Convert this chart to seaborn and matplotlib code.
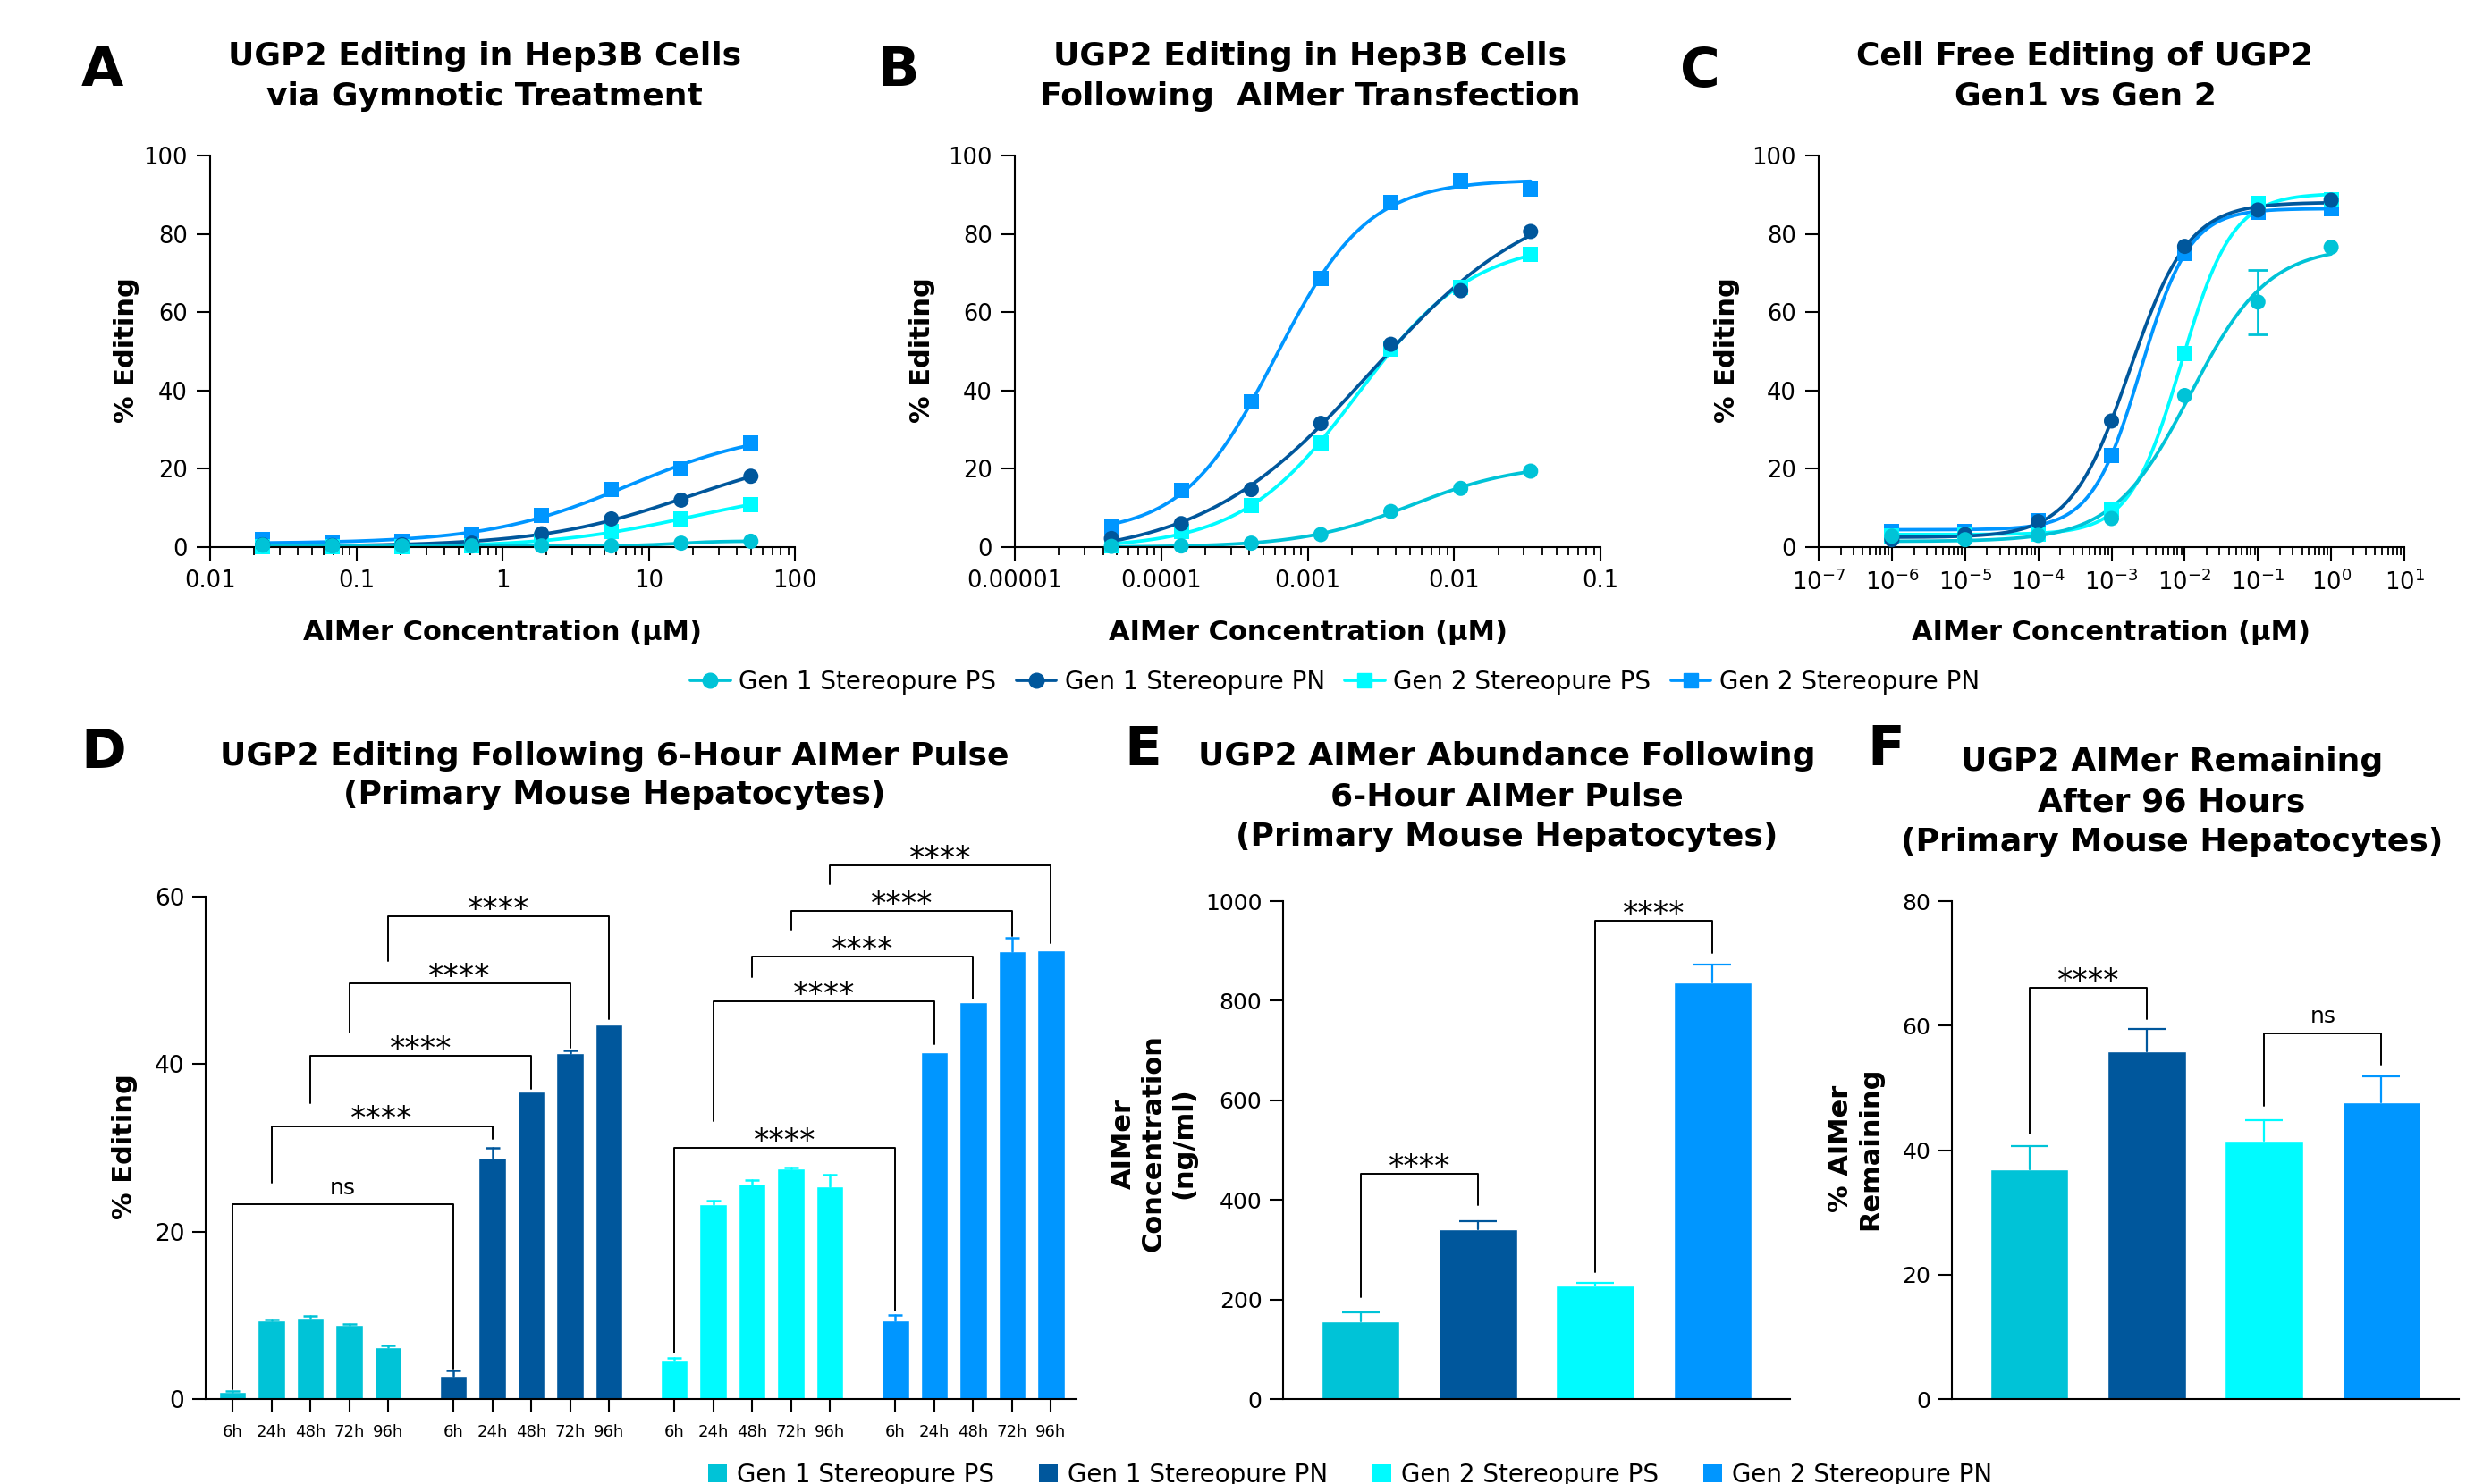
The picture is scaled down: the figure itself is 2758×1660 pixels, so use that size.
import numpy as np
import pandas as pd
import matplotlib
matplotlib.use("Agg")
import matplotlib.pyplot as plt
import seaborn as sns
from matplotlib.lines import Line2D
from matplotlib.patches import Patch
from matplotlib.ticker import LogLocator, NullFormatter

sns.set_style("ticks")
plt.rcParams["font.family"] = ["DejaVu Sans"]
plt.rcParams["mathtext.default"] = "regular"
plt.rcParams["text.color"] = "black"
plt.rcParams["axes.labelcolor"] = "black"
plt.rcParams["xtick.color"] = "black"
plt.rcParams["ytick.color"] = "black"
plt.rcParams["axes.edgecolor"] = "black"

# ---------------- data ----------------
series = ["Gen 1 Stereopure PS", "Gen 1 Stereopure PN",
          "Gen 2 Stereopure PS", "Gen 2 Stereopure PN"]
colors = ["#00C3D7", "#00579C", "#00FBFF", "#0096FF"]
markers = ["o", "o", "s", "s"]

# A: gymnotic treatment, uM
conc_a = [50, 16.67, 5.556, 1.852, 0.617, 0.206, 0.0686, 0.0229]
edit_a_g1ps = [1.5, 1.0, 0.3, 0.3, 0.3, 0.3, 0.3, 0.5]
edit_a_g1pn = [18.1, 12.0, 7.2, 3.4, 1.0, 0.6, 0.4, 0.6]
edit_a_g2ps = [10.9, 7.1, 3.9, 1.7, 0.4, 0.1, 0.2, 0.1]
edit_a_g2pn = [26.5, 20.0, 14.7, 8.0, 3.1, 1.5, 1.3, 1.9]

# B: transfection, uM
conc_b = [0.0333, 0.0111, 0.0037, 0.00123, 0.000412, 0.000137, 0.0000457]
edit_b_g1ps = [19.4, 15.0, 9.1, 3.2, 1.0, 0.3, 0.2]
edit_b_g1pn = [80.6, 65.5, 51.8, 31.6, 14.7, 6.0, 2.2]
edit_b_g2ps = [74.7, 66.4, 50.6, 26.5, 10.7, 4.1, 0.3]
edit_b_g2pn = [91.5, 93.5, 88.1, 68.5, 37.1, 14.4, 5.2]

# C: cell free, uM
conc_c = [1, 0.1, 0.01, 0.001, 0.0001, 0.00001, 0.000001]
edit_c_g1ps = [76.6, 62.6, 38.7, 7.3, 3.0, 1.9, 2.8]
sem_c_g1ps = [0, 8.2, 0, 0, 0, 0, 0]
edit_c_g1pn = [88.6, 86.1, 76.8, 32.2, 6.5, 3.2, 1.9]
edit_c_g2ps = [88.8, 87.7, 49.4, 9.8, 3.3, 3.0, 2.8]
edit_c_g2pn = [86.5, 85.5, 75.0, 23.3, 6.7, 3.9, 4.1]

# D: editing after 6 h pulse
timepoints = ["6h", "24h", "48h", "72h", "96h"]
edit_d_g1ps = [0.9, 9.4, 9.7, 8.9, 6.2]
err_d_g1ps = [0.1, 0.1, 0.2, 0.1, 0.2]
edit_d_g1pn = [2.8, 28.8, 36.7, 41.3, 44.7]
err_d_g1pn = [0.6, 1.2, 0.0, 0.3, 0.0]
edit_d_g2ps = [4.7, 23.3, 25.7, 27.5, 25.4]
err_d_g2ps = [0.2, 0.4, 0.5, 0.1, 1.4]
edit_d_g2pn = [9.35, 41.4, 47.4, 53.5, 53.6]
err_d_g2pn = [0.7, 0.0, 0.0, 1.6, 0.0]

# E: AIMer abundance (ng/ml)
abund_e = [156, 341, 228, 837]
err_e = [19, 17, 6, 36]

# F: % AIMer remaining after 96 h
remain_f = [36.9, 55.8, 41.5, 47.7]
err_f = [3.7, 3.7, 3.3, 4.1]

# significance brackets: (bar a, bar b, bracket top, left leg end, right leg end, label)
sig_d = [((0, 0), (1, 0), 23.3, 1.2, 3.6, "ns"),
         ((0, 1), (1, 1), 32.6, 25.8, 31.1, "****"),
         ((0, 2), (1, 2), 41.0, 35.3, 37.0, "****"),
         ((0, 3), (1, 3), 49.6, 43.8, 42.0, "****"),
         ((0, 4), (1, 4), 57.6, 52.3, 45.4, "****"),
         ((2, 0), (3, 0), 30.0, 5.6, 10.6, "****"),
         ((2, 1), (3, 1), 47.5, 33.2, 42.4, "****"),
         ((2, 2), (3, 2), 52.8, 50.4, 47.8, "****"),
         ((2, 3), (3, 3), 58.3, 56.1, 55.3, "****"),
         ((2, 4), (3, 4), 63.7, 61.5, 54.4, "****")]
sig_e = [(0, 1, 452, 205, 390, "****"), (2, 3, 960, 255, 896, "****")]
sig_f = [(0, 1, 66.0, 42.6, 61.0, "****"), (2, 3, 58.8, 47.1, 53.7, "ns")]

# ---------------- helpers ----------------
W, H = 2758, 1660
palette = dict(zip(series, colors))


def box(l, t, r, b):
    return [l / W, 1 - b / H, (r - l) / W, (b - t) / H]


def ftext(x, y, s, **kw):
    fig.text(x / W, 1 - y / H, s, ha="center", va="center", **kw)


def fit_4pl(x, y):
    # least squares 4PL fit on a grid of (logEC50, hill), linear in bottom/top
    lx = np.log10(np.asarray(x, float))
    y = np.asarray(y, float)
    lec = np.arange(lx.min() - 1, lx.max() + 1.5, 0.01)[:, None, None]
    hill = np.arange(0.3, 3.0, 0.01)[None, :, None]
    f = 1 / (1 + 10 ** ((lec - lx) * hill))
    fm = f.mean(-1, keepdims=True)
    ym = y.mean()
    slope = ((f - fm) * (y - ym)).sum(-1, keepdims=True) / (((f - fm) ** 2).sum(-1, keepdims=True) + 1e-12)
    sse = ((y - ym - slope * (f - fm)) ** 2).sum(-1)
    i, j = np.unravel_index(np.nanargmin(sse), sse.shape)
    bottom = ym - slope[i, j, 0] * fm[i, j, 0]
    return bottom, bottom + slope[i, j, 0], lec[i, 0, 0], hill[0, j, 0]


def style_axes(ax, fs, pad=6):
    sns.despine(ax=ax)
    for sp in ("left", "bottom"):
        ax.spines[sp].set_linewidth(1.5)
    ax.tick_params(which="major", length=11, width=1.5, labelsize=fs, pad=pad, color="black")
    ax.tick_params(which="minor", length=6.5, width=1.3, color="black")
    ax.set_xlabel("")
    ax.set_ylabel("")


def up_error(ax, x, y, e, color, cap, lw):
    # one-sided (upper) error bar, as drawn by the original software
    for xi, yi, ei in zip(x, y, e):
        if ei <= 0:
            continue
        ax.plot([xi, xi], [yi, yi + ei], color=color, lw=lw, zorder=3, clip_on=False)
        ax.plot([xi], [yi + ei], marker="_", markersize=2 * cap, mew=lw, color=color,
                zorder=3, clip_on=False)


def bracket(ax, x1, x2, top, lo1, lo2, label):
    ax.plot([x1, x1, x2, x2], [lo1, top, top, lo2], color="black", lw=1.4,
            clip_on=False, zorder=5)
    if label == "ns":
        ax.annotate(label, xy=((x1 + x2) / 2, top), xytext=(0, 8), textcoords="offset points",
                    ha="center", va="baseline", fontsize=18, annotation_clip=False)
    else:
        ax.annotate(label, xy=((x1 + x2) / 2, top), xytext=(0, -2), textcoords="offset points",
                    ha="center", va="baseline", fontsize=25, annotation_clip=False)


def dose_panel(ax, conc, values, xlim, ticks, ticklabels, sem=None):
    ax.set_xscale("log")
    conc = np.asarray(conc, float)
    rows = []
    for k in [3, 2, 1, 0]:
        b, t, lec, h = fit_4pl(conc, values[k])
        xs = np.logspace(np.log10(conc.min()), np.log10(conc.max()), 300)
        ys = b + (t - b) / (1 + 10 ** ((lec - np.log10(xs)) * h))
        ax.plot(xs, ys, color=colors[k], lw=2.7, zorder=2, solid_capstyle="round")
        for c, v in zip(conc, values[k]):
            rows.append({"conc": c, "value": v, "series": series[k]})
    if sem is not None:
        sem = np.asarray(sem, float)
        m = sem > 0
        ax.errorbar(conc[m], np.asarray(values[0])[m], yerr=sem[m], fmt="none",
                    ecolor=colors[0], elinewidth=2, capsize=8, capthick=2, zorder=2)
    df = pd.DataFrame(rows)
    sns.scatterplot(data=df, x="conc", y="value", hue="series", style="series",
                    palette=palette, markers=dict(zip(series, markers)), s=150,
                    linewidth=0, legend=False, ax=ax, zorder=3, clip_on=False)
    ax.set_xlim(*xlim)
    ax.set_ylim(0, 100)
    ax.set_yticks([0, 20, 40, 60, 80, 100])
    ax.set_xticks(ticks, ticklabels)
    ax.xaxis.set_minor_locator(LogLocator(base=10, subs=np.arange(2, 10), numticks=200))
    ax.xaxis.set_minor_formatter(NullFormatter())
    style_axes(ax, 18.5, pad=7)


fig = plt.figure(figsize=(W / 100, H / 100), dpi=100)

# ---------------- panels A-C ----------------
top_panels = [
    ("A", box(235, 174, 889, 612), conc_a,
     [edit_a_g1ps, edit_a_g1pn, edit_a_g2ps, edit_a_g2pn], None, (0.01, 100),
     [0.01, 0.1, 1, 10, 100], ["0.01", "0.1", "1", "10", "100"],
     ["UGP2 Editing in Hep3B Cells", "via Gymnotic Treatment"], 114, 542, 141),
    ("B", box(1135, 174, 1790, 612), conc_b,
     [edit_b_g1ps, edit_b_g1pn, edit_b_g2ps, edit_b_g2pn], None, (1e-5, 0.1),
     [1e-5, 1e-4, 1e-3, 1e-2, 1e-1], ["0.00001", "0.0001", "0.001", "0.01", "0.1"],
     ["UGP2 Editing in Hep3B Cells", "Following  AIMer Transfection"], 1005, 1465, 1031),
    ("C", box(2034, 174, 2689, 612), conc_c,
     [edit_c_g1ps, edit_c_g1pn, edit_c_g2ps, edit_c_g2pn], sem_c_g1ps, (1e-7, 10),
     [10.0 ** e for e in range(-7, 2)], [r"$10^{%d}$" % e for e in range(-7, 2)],
     ["Cell Free Editing of UGP2", "Gen1 vs Gen 2"], 1901, 2332, 1931),
]
for letter, rect, conc, vals, sem, xlim, ticks, tl, title, lx, tx, ylx in top_panels:
    ax = fig.add_axes(rect)
    dose_panel(ax, conc, vals, xlim, ticks, tl, sem)
    ftext(lx, 80, letter, fontsize=44, fontweight="bold")
    for i, line in enumerate(title):
        ftext(tx, 63 + 45 * i, line, fontsize=26, fontweight="bold")
    ftext(ylx, 392, "% Editing", fontsize=22, fontweight="bold", rotation=90)
    x_mid = (rect[0] + rect[2] / 2) * W
    ftext(x_mid, 707, "AIMer Concentration (µM)", fontsize=22, fontweight="bold")

line_handles = [Line2D([0], [0], color=c, marker=m, markersize=12, lw=2.7)
                for c, m in zip(colors, markers)]
fig.legend(line_handles, series, loc="center", bbox_to_anchor=(1493 / W, 1 - 763 / H),
           ncol=4, frameon=False, fontsize=20, handlelength=1.6, handletextpad=0.35,
           columnspacing=0.8)

# ---------------- panel D ----------------
group_step = 5.68
edit_d = [edit_d_g1ps, edit_d_g1pn, edit_d_g2ps, edit_d_g2pn]
err_d = [err_d_g1ps, err_d_g1pn, err_d_g2ps, err_d_g2pn]


def pos_d(g, t):
    return g * group_step + t


df_d = pd.DataFrame([{"pos": pos_d(g, t), "value": edit_d[g][t], "series": series[g]}
                     for g in range(4) for t in range(5)])
ax = fig.add_axes(box(230, 1003, 1204, 1565))
sns.barplot(data=df_d, x="pos", y="value", hue="series", hue_order=series, palette=palette,
            native_scale=True, dodge=False, width=0.7, errorbar=None, saturation=1,
            legend=False, ax=ax)
for g in range(4):
    up_error(ax, [pos_d(g, t) for t in range(5)], edit_d[g], err_d[g], colors[g], 6, 1.8)
ax.set_xlim(-0.69, 21.7)
ax.set_ylim(0, 60)
ax.set_yticks([0, 20, 40, 60])
ax.set_xticks([pos_d(g, t) for g in range(4) for t in range(5)], timepoints * 4)
style_axes(ax, 19, pad=6)
ax.tick_params(axis="x", labelsize=13, pad=9)
for (g1, t1), (g2, t2), top, lo1, lo2, lab in sig_d:
    bracket(ax, pos_d(g1, t1), pos_d(g2, t2), top, lo1, lo2, lab)
ftext(116, 842, "D", fontsize=44, fontweight="bold")
ftext(687, 846, "UGP2 Editing Following 6-Hour AIMer Pulse", fontsize=26, fontweight="bold")
ftext(687, 889, "(Primary Mouse Hepatocytes)", fontsize=26, fontweight="bold")
ftext(140, 1283, "% Editing", fontsize=22, fontweight="bold", rotation=90)

# ---------------- panels E and F ----------------
bar_panels = [
    ("E", box(1435, 1008, 2002, 1565), abund_e, err_e, (0, 1000), [0, 200, 400, 600, 800, 1000],
     sig_e, ["UGP2 AIMer Abundance Following", "6-Hour AIMer Pulse", "(Primary Mouse Hepatocytes)"],
     (1278, 839), 1685, 846, (1290, 1279), "AIMer\nConcentration\n(ng/ml)"),
    ("F", box(2183, 1008, 2750, 1565), remain_f, err_f, (0, 80), [0, 20, 40, 60, 80],
     sig_f, ["UGP2 AIMer Remaining", "After 96 Hours", "(Primary Mouse Hepatocytes)"],
     (2109, 839), 2429, 852, (2075, 1285), "% AIMer\nRemaining"),
]
for letter, rect, vals, errs, ylim, yt, sig, title, lpos, tx, ty, ylpos, ylab in bar_panels:
    ax = fig.add_axes(rect)
    sns.barplot(x=series, y=vals, hue=series, order=series, hue_order=series, palette=palette,
                width=0.665, errorbar=None, saturation=1, legend=False, ax=ax)
    for k in range(4):
        up_error(ax, [k], [vals[k]], [errs[k]], colors[k], 15, 1.6)
    ax.set_xlim(-0.66, 3.66)
    ax.set_ylim(*ylim)
    ax.set_yticks(yt)
    ax.set_xticks([])
    style_axes(ax, 18, pad=6)
    for a, b, top, lo1, lo2, lab in sig:
        bracket(ax, a, b, top, lo1, lo2, lab)
    ftext(*lpos, letter, fontsize=44, fontweight="bold")
    for i, line in enumerate(title):
        ftext(tx, ty + 45 * i, line, fontsize=26, fontweight="bold")
    ftext(*ylpos, ylab, fontsize=22, fontweight="bold", rotation=90, multialignment="center")

bar_handles = [Patch(facecolor=c, edgecolor="none") for c in colors]
fig.legend(bar_handles, series, loc="center", bbox_to_anchor=(1510 / W, 1 - 1650 / H),
           ncol=4, frameon=False, fontsize=20, handlelength=0.75, handleheight=0.75,
           handletextpad=0.4, columnspacing=1.8)

fig.savefig("out.png", dpi=100)
